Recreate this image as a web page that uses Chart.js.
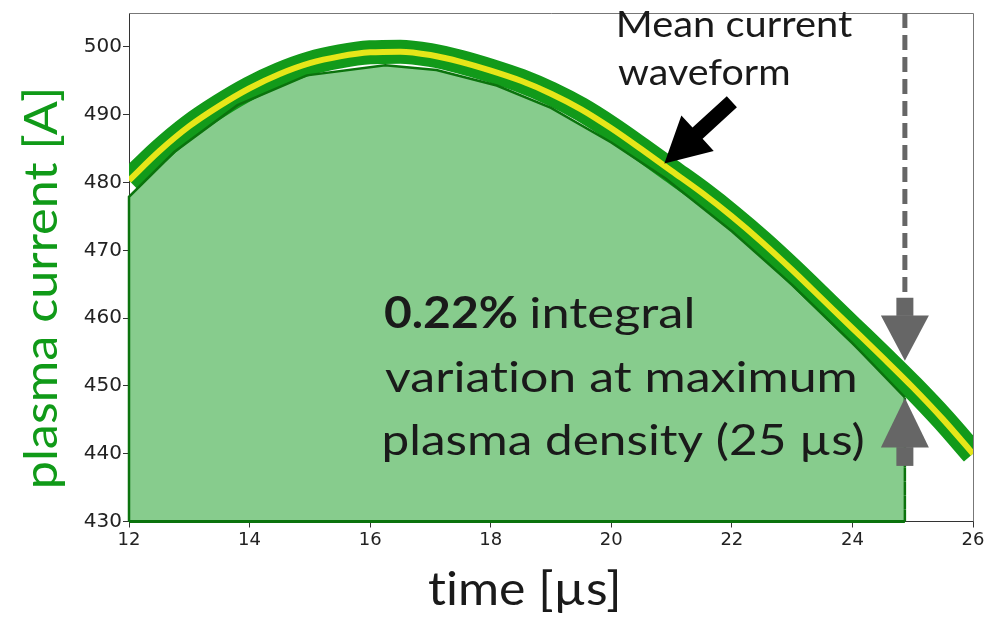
<!DOCTYPE html>
<html>
<head>
<meta charset="utf-8">
<script src="https://cdn.jsdelivr.net/npm/chart.js@4/dist/chart.umd.min.js"></script>
<style>
  html, body { margin: 0; padding: 0; background: #ffffff; }
  #c { display: block; }
</style>
</head>
<body>
<canvas id="c" width="1001" height="617"></canvas>
<script>
// ---------- data ----------
const timeUs = [12, 12.5, 13, 13.5, 14, 14.5, 15, 15.5, 16, 16.5, 17, 17.5, 18, 18.5, 19, 19.5,
                20, 20.5, 21, 21.5, 22, 22.5, 23, 23.5, 24, 24.5, 25, 25.5, 26];
const meanCurrent = [480.3, 484.6, 488.3, 491.3, 493.9, 496.0, 497.6, 498.6, 499.2, 499.3, 498.8, 497.8,
                     496.5, 495.0, 493.1, 490.8, 488.0, 484.9, 481.7, 478.5, 475.0, 471.2, 467.1, 462.8,
                     458.5, 454.2, 449.8, 445.1, 440.0];

// lower envelope of the integrated region (piecewise linear), closed down to the axis
const envTime    = [12, 12, 12.75, 13.8, 14.95, 16.25, 17.1, 18.1, 19, 20, 20.9, 22, 23, 24, 24.87, 24.87];
const envCurrent = [430, 477.9, 484.5, 491.4, 495.8, 497.3, 496.6, 494.3, 491.0, 485.9, 480.6, 472.8,
                    464.9, 456.3, 448.3, 430];
const baseTime    = [12, 24.87];
const baseCurrent = [430, 430];

const xTicks = [12, 14, 16, 18, 20, 22, 24, 26];
const yTicks = [430, 440, 450, 460, 470, 480, 490, 500];
const xRange = [12, 26];
const yRange = [430, 505];

// annotation anchors (data units)
const grayArrow = { x: 24.87, stemTop: 463.0, downBase: 460.4, downTip: 453.7, upTip: 448.2, upBase: 440.9, stemBottom: 438.2 };
const blackArrow = { tailX: 22.0, tailY: 491.9, tipX: 20.88, tipY: 482.8 };

// ---------- helpers ----------
const pts = (xs, ys) => xs.map((x, i) => ({ x, y: ys[i] }));
const FONT = 'Lato, "Open Sans", sans-serif';
const GREEN_TITLE = '#109a18';
const TEXT = '#1a1a1a';
const DARK_GREEN = '#0b730d';

function fitText(ctx, text, left, baseline, targetW, font, color) {
  ctx.save();
  ctx.font = font;
  try { ctx.letterSpacing = '0.01px'; } catch (e) {}
  ctx.fillStyle = color;
  ctx.textAlign = 'left';
  ctx.textBaseline = 'alphabetic';
  const m = ctx.measureText(text);
  const visW = m.actualBoundingBoxRight + m.actualBoundingBoxLeft;
  const sx = targetW / visW;
  ctx.translate(left + m.actualBoundingBoxLeft * sx, baseline);
  ctx.scale(sx, 1);
  ctx.fillText(text, 0, 0);
  ctx.restore();
}

const overlay = {
  id: 'overlay',
  afterDatasetsDraw(chart) {
    const ctx = chart.ctx;
    const xs = chart.scales.x, ys = chart.scales.y;
    const a = chart.chartArea;

    // frame top & right
    ctx.save();
    ctx.strokeStyle = '#777777';
    ctx.lineWidth = 1;
    ctx.beginPath();
    ctx.moveTo(a.left, a.top + 0.5);
    ctx.lineTo(a.right + 0.5, a.top + 0.5);
    ctx.lineTo(a.right + 0.5, a.bottom);
    ctx.stroke();
    ctx.restore();

    // gray dashed marker with two arrows
    const gx = xs.getPixelForValue(grayArrow.x);
    const pTop = ys.getPixelForValue(grayArrow.stemTop);
    const pDB = ys.getPixelForValue(grayArrow.downBase);
    const pDT = ys.getPixelForValue(grayArrow.downTip);
    const pUT = ys.getPixelForValue(grayArrow.upTip);
    const pUB = ys.getPixelForValue(grayArrow.upBase);
    const pBot = ys.getPixelForValue(grayArrow.stemBottom);
    ctx.save();
    ctx.strokeStyle = '#666666';
    ctx.fillStyle = '#666666';
    ctx.lineWidth = 5;
    ctx.setLineDash([15, 7]);
    ctx.beginPath();
    ctx.moveTo(gx, a.top);
    ctx.lineTo(gx, pTop);
    ctx.stroke();
    ctx.setLineDash([]);
    const sw = 8.5, hw = 24;
    ctx.fillRect(gx - sw, pTop, sw * 2, pDB - pTop + 0.5);
    ctx.beginPath();
    ctx.moveTo(gx - hw, pDB); ctx.lineTo(gx + hw, pDB); ctx.lineTo(gx, pDT); ctx.closePath(); ctx.fill();
    ctx.fillRect(gx - sw, pUB - 0.5, sw * 2, pBot - pUB + 0.5);
    ctx.beginPath();
    ctx.moveTo(gx - hw, pUB); ctx.lineTo(gx + hw, pUB); ctx.lineTo(gx, pUT); ctx.closePath(); ctx.fill();
    ctx.restore();

    // black arrow to the mean waveform
    const tx = xs.getPixelForValue(blackArrow.tailX), ty = ys.getPixelForValue(blackArrow.tailY);
    const hx = xs.getPixelForValue(blackArrow.tipX), hy = ys.getPixelForValue(blackArrow.tipY);
    const ang = Math.atan2(hy - ty, hx - tx);
    const len = Math.hypot(hx - tx, hy - ty);
    ctx.save();
    ctx.translate(tx, ty);
    ctx.rotate(ang);
    ctx.fillStyle = '#000000';
    const headL = 45, headW = 24, shaftW = 7.5;
    ctx.beginPath();
    ctx.moveTo(0, -shaftW);
    ctx.lineTo(len - headL, -shaftW);
    ctx.lineTo(len - headL, -headW);
    ctx.lineTo(len, 0);
    ctx.lineTo(len - headL, headW);
    ctx.lineTo(len - headL, shaftW);
    ctx.lineTo(0, shaftW);
    ctx.closePath();
    ctx.fill();
    ctx.restore();
  },
  afterDraw(chart) {
    const ctx = chart.ctx;
    // axis titles
    fitText(ctx, 'time [µs]', 428, 605, 189, '46px ' + FONT, TEXT);
    ctx.save();
    ctx.translate(57, 288.5);
    ctx.rotate(-Math.PI / 2);
    fitText(ctx, 'plasma current [A]', -197.5, 0, 395, '46px ' + FONT, GREEN_TITLE);
    ctx.restore();

    // annotation: mean current waveform
    fitText(ctx, 'Mean current', 619, 37, 233, '37px ' + FONT, TEXT);
    fitText(ctx, 'waveform', 618, 85, 171, '37px ' + FONT, TEXT);

    // annotation: integral variation
    fitText(ctx, '0.22%', 385, 328, 131.7, 'bold 43px ' + FONT, TEXT);
    fitText(ctx, 'integral', 531.7, 328, 160, '43px ' + FONT, TEXT);
    fitText(ctx, 'variation at maximum', 385, 392, 470, '43px ' + FONT, TEXT);
    fitText(ctx, 'plasma density (25 µs)', 385, 455, 478, '43px ' + FONT, TEXT);
  }
};

const lastSeg = envTime.length - 1;
const envClip = { left: 3, top: 0, right: 0, bottom: 3 };

new Chart(document.getElementById('c'), {
  type: 'line',
  data: {
    datasets: [
      {
        label: 'mean',
        data: pts(timeUs, meanCurrent),
        borderColor: '#e6e619',
        borderWidth: 6,
        pointRadius: 0,
        cubicInterpolationMode: 'monotone',
        fill: false,
        order: 0,
        clip: 0
      },
      {
        label: 'envelope edge',
        data: pts(envTime, envCurrent),
        borderColor: DARK_GREEN,
        borderWidth: 2.5,
        pointRadius: 0,
        tension: 0,
        fill: false,
        order: 1,
        clip: envClip,
        segment: {
          borderDash: c => (c.p1DataIndex === lastSeg ? [10, 4] : undefined)
        }
      },
      {
        label: 'base',
        data: pts(baseTime, baseCurrent),
        borderColor: DARK_GREEN,
        borderWidth: 3,
        pointRadius: 0,
        fill: false,
        order: 1,
        clip: envClip
      },
      {
        label: 'shots',
        data: pts(timeUs, meanCurrent),
        borderColor: '#129a1a',
        borderWidth: 24,
        pointRadius: 0,
        cubicInterpolationMode: 'monotone',
        fill: false,
        order: 2,
        clip: 0
      },
      {
        label: 'envelope fill',
        data: pts(envTime, envCurrent),
        borderColor: 'rgba(0,0,0,0)',
        backgroundColor: '#87cc8d',
        borderWidth: 0,
        pointRadius: 0,
        tension: 0,
        fill: 'start',
        order: 3,
        clip: envClip
      }
    ]
  },
  options: {
    responsive: false,
    animation: false,
    devicePixelRatio: 1,
    events: [],
    layout: { padding: { left: 0, right: 28, top: 8, bottom: 0 } },
    plugins: { legend: { display: false }, tooltip: { enabled: false } },
    scales: {
      x: {
        type: 'linear',
        min: xRange[0],
        max: xRange[1],
        afterBuildTicks: s => { s.ticks = xTicks.map(v => ({ value: v })); },
        afterFit: s => { s.height = 617 - 521.5; },
        grid: { drawOnChartArea: false, tickLength: 6, tickColor: '#333333', tickWidth: 1 },
        border: { display: true, color: '#333333', width: 1 },
        ticks: {
          font: { family: 'DejaVu Sans', size: 18 },
          color: '#222222',
          padding: 2,
          maxRotation: 0,
          autoSkip: false
        }
      },
      y: {
        type: 'linear',
        min: yRange[0],
        max: yRange[1],
        afterBuildTicks: s => { s.ticks = yTicks.map(v => ({ value: v })); },
        afterFit: s => { s.width = 129; },
        grid: { drawOnChartArea: false, tickLength: 6, tickColor: '#333333', tickWidth: 1 },
        border: { display: true, color: '#333333', width: 1 },
        ticks: {
          font: { family: 'DejaVu Sans', size: 20 },
          color: '#222222',
          padding: 1,
          autoSkip: false
        }
      }
    }
  },
  plugins: [overlay]
});
</script>
</body>
</html>
